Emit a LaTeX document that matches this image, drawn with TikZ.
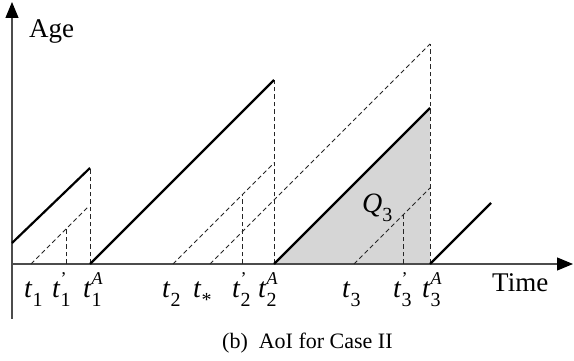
\documentclass[tikz,border=0pt]{standalone}
\usepackage{fontspec}
\setmainfont{Liberation Serif}
\usetikzlibrary{arrows.meta}
% time label: t with subscript #1 and superscript #2
\newcommand{\tlab}[2]{\textit{t}\rlap{\raisebox{.48em}{\fontsize{18}{18}\selectfont#2}}\raisebox{-.3em}{\fontsize{20}{20}\selectfont#1}}
\begin{document}
\begin{tikzpicture}[x=1pt,y=1pt,
  axis/.style={draw=black!70,line width=1.2pt,-{Triangle[length=16pt,width=13pt,color=black]}},
  age/.style={line width=2.2pt},
  guide/.style={draw=black!85,line width=1pt,dash pattern=on 4.5pt off 3pt},
  lab/.style={font=\fontsize{28}{30}\selectfont,inner sep=0pt,anchor=base west}]
\useasboundingbox (-12,-97) rectangle (562,264);
% area Q_3
\fill[black!16] (262,0)--(418,156)--(418,0)--cycle;
% axes
\draw[axis] (0,-55)--(0,262);
\draw[axis] (0,0)--(561,0);
% dashed ramps and marks
\draw[guide] (19,0)--(77,58);
\draw[guide] (54,0)--(54,35);
\draw[guide] (78,0)--(78,96);
\draw[guide] (161,0)--(262,101);
\draw[guide] (198,0)--(418,220);
\draw[guide] (230,0)--(230,69);
\draw[guide] (262,0)--(262,184);
\draw[guide] (342,0)--(418,76);
\draw[guide] (391,0)--(391,49);
\draw[guide] (418,0)--(418,220);
% age of information
\draw[age] (0,21)--(78,96);
\draw[age] (78,0)--(262,184);
\draw[age] (262,0)--(418,156);
\draw[age] (418,0)--(479,61);
% labels
\node[lab,font=\fontsize{27}{29}\selectfont] (age) at (17,226) {Age};
\node[lab,font=\fontsize{27}{29}\selectfont] (time) at (480,-28) {Time};
\node[lab] (q3) at (350,51) {\textit{Q}\raisebox{-.3em}{\fontsize{20}{20}\selectfont 3}};
\node[lab] (t1) at (12,-34) {\tlab{1}{}};
\node[lab] (t1p) at (40,-34) {\tlab{1}{'}};
\node[lab] (t1a) at (71,-34) {\tlab{1}{\textit{A}}};
\node[lab] (t2) at (150,-34) {\tlab{2}{}};
\node[lab] (ts) at (181,-34) {\tlab{*}{}};
\node[lab] (t2p) at (220,-34) {\tlab{2}{'}};
\node[lab] (t2a) at (246,-34) {\tlab{2}{\textit{A}}};
\node[lab] (t3) at (330,-34) {\tlab{3}{}};
\node[lab] (t3p) at (381,-34) {\tlab{3}{'}};
\node[lab] (t3a) at (410,-34) {\tlab{3}{\textit{A}}};
\node[lab,font=\fontsize{22}{24}\selectfont] (cap) at (210,-85) {(b)\ \ AoI for Case II};
\end{tikzpicture}
\end{document}
